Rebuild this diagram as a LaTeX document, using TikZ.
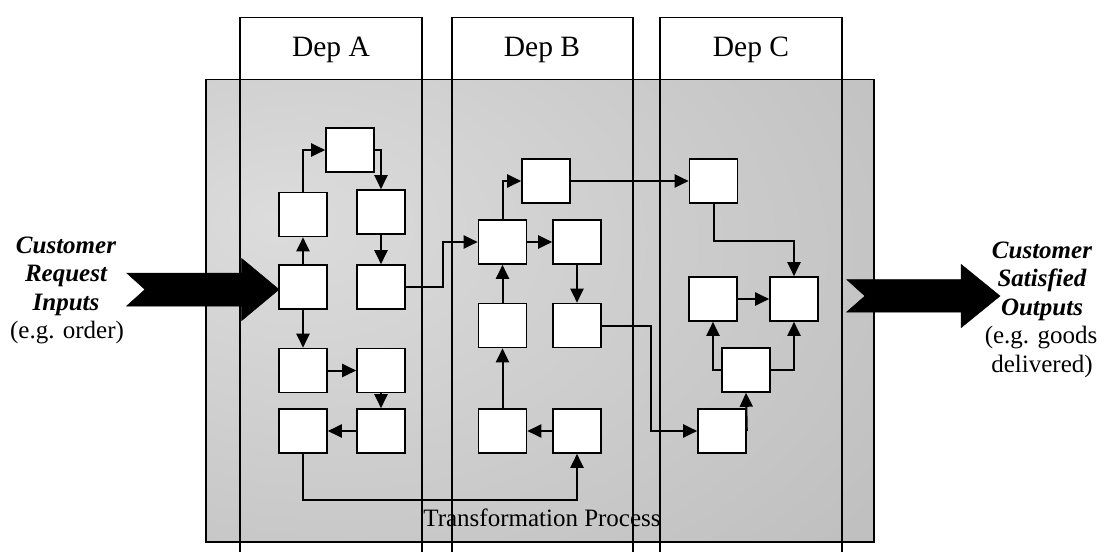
\documentclass[tikz,border=0pt]{standalone}
\usepackage{fontspec}
\setmainfont{Liberation Serif}
\usetikzlibrary{arrows.meta}
\definecolor{graydark}{RGB}{192,192,192}
\definecolor{graylight}{RGB}{220,220,220}
\pgfdeclareradialshading{procshade}{\pgfpoint{-20bp}{10bp}}{color(0bp)=(graylight); color(45bp)=(graydark); color(100bp)=(graydark)}
\begin{document}
\begin{tikzpicture}[x=1pt,y=-1pt,
  blk/.style={draw, fill=white, line width=1.6pt, minimum width=48pt, minimum height=44pt, inner sep=0pt},
  arr/.style={line width=2pt, -{Triangle[length=14pt,width=13pt]}},
  colline/.style={line width=1.7pt},
  deplabel/.style={font=\fontsize{29.5}{34}\selectfont, anchor=base},
  lbl/.style={font=\fontsize{25}{28.5}\selectfont, anchor=base},
  blbl/.style={font=\fontsize{25}{28.5}\selectfont\bfseries\itshape, anchor=base},
  bigarrow/.style={fill=black, draw=black, line width=0.5pt}]
\useasboundingbox (0,0) rectangle (1104,552);
% process area
\draw[colline, shading=procshade] (205.7,79.5) rectangle (874,542);
% department columns
\foreach \l/\r/\n in {240/422/A, 451.7/633/B, 660/842/C}{
  \draw[colline, fill=white] (\l,17.5) rectangle (\r,79.5);
  \draw[colline] (\l,79.5) -- (\l,552);
  \draw[colline] (\r,79.5) -- (\r,552);
}
\node[deplabel] (depA) at (331,56.5) {Dep A};
\node[deplabel] (depB) at (542,56.5) {Dep B};
\node[deplabel] (depC) at (751,56.5) {Dep C};
\node[lbl] (trans) at (542,526) {Transformation Process};
% Dep A boxes
\node[blk] (a1) at (350,150) {};
\node[blk] (a2) at (303,214.5) {};
\node[blk] (a3) at (381,212) {};
\node[blk] (a4) at (303,287) {};
\node[blk] (a5) at (381,287) {};
\node[blk] (a6) at (303,370.5) {};
\node[blk] (a7) at (381,370.5) {};
\node[blk] (a8) at (303,431) {};
\node[blk] (a9) at (381,431) {};
% Dep B boxes
\node[blk] (bt) at (546,181) {};
\node[blk] (b1) at (502.5,242) {};
\node[blk] (b2) at (577,242) {};
\node[blk] (b3) at (502.5,325.5) {};
\node[blk] (b4) at (577,325.5) {};
\node[blk] (b5) at (502.5,431) {};
\node[blk] (b6) at (577,431) {};
% Dep C boxes
\node[blk] (ct) at (713.5,181) {};
\node[blk] (cl) at (713,299) {};
\node[blk] (cr) at (794,299) {};
\node[blk] (cm) at (746,370) {};
\node[blk] (cb) at (722,431) {};
% Dep A connectors
\draw[arr] (a2.north) |- (a1.west);
\draw[arr] (a1.east) -| (a3.north);
\draw[arr] (a3.south) -- (a5.north);
\draw[arr] (a4.north) -- (a2.south);
\draw[arr] (a4.south) -- (a6.north);
\draw[arr] (a6.east) -- (a7.west);
\draw[arr] (a7.south) -- (a9.north);
\draw[arr] (a9.west) -- (a8.east);
\draw[arr] (a8.south) -- ++(0,46) -| (b6.south);
\draw[arr] (a5.east) -- ++(37,0) |- (b1.west);
% Dep B connectors
\draw[arr] (b1.north) |- (bt.west);
\draw[arr] (bt.east) -- (ct.west);
\draw[arr] (b1.east) -- (b2.west);
\draw[arr] (b2.south) -- (b4.north);
\draw[arr] (b3.north) -- (b1.south);
\draw[arr] (b5.north) -- (b3.south);
\draw[arr] (b6.west) -- (b5.east);
\draw[arr] (b4.east) -- ++(49,0) |- (cb.west);
% Dep C connectors
\draw[arr] (ct.south) -- ++(0,37) -| (cr.north);
\draw[arr] (cl.east) -- (cr.west);
\draw[arr] (cm.west) -| (cl.south);
\draw[arr] (cm.east) -| (cr.south);
\draw[arr] (cb.east) -- (cm.south);
% big arrows
\draw[bigarrow] (126.7,273) -- (145,289.5) -- (126.7,306) -- (241.7,306) -- (241.7,320.5) -- (279,289.5) -- (241.7,258.5) -- (241.7,273) -- cycle;
\draw[bigarrow] (846.7,279.5) -- (865,296) -- (846.7,312) -- (961,312) -- (961,327.7) -- (1000,296) -- (961,264.3) -- (961,279.5) -- cycle;
% input text
\node[blbl] (in1) at (66,253.3) {Customer};
\node[blbl] (in2) at (66,281.8) {Request};
\node[blbl] (in3) at (66,310.3) {Inputs};
\node[lbl] (in4) at (67,338.8) {(e.g. order)};
% output text
\node[blbl] (out1) at (1042,258) {Customer};
\node[blbl] (out2) at (1042,286.5) {Satisfied};
\node[blbl] (out3) at (1042,315) {Outputs};
\node[lbl] (out4) at (1041,343.5) {(e.g. goods};
\node[lbl] (out5) at (1042,372) {delivered)};
\end{tikzpicture}
\end{document}
